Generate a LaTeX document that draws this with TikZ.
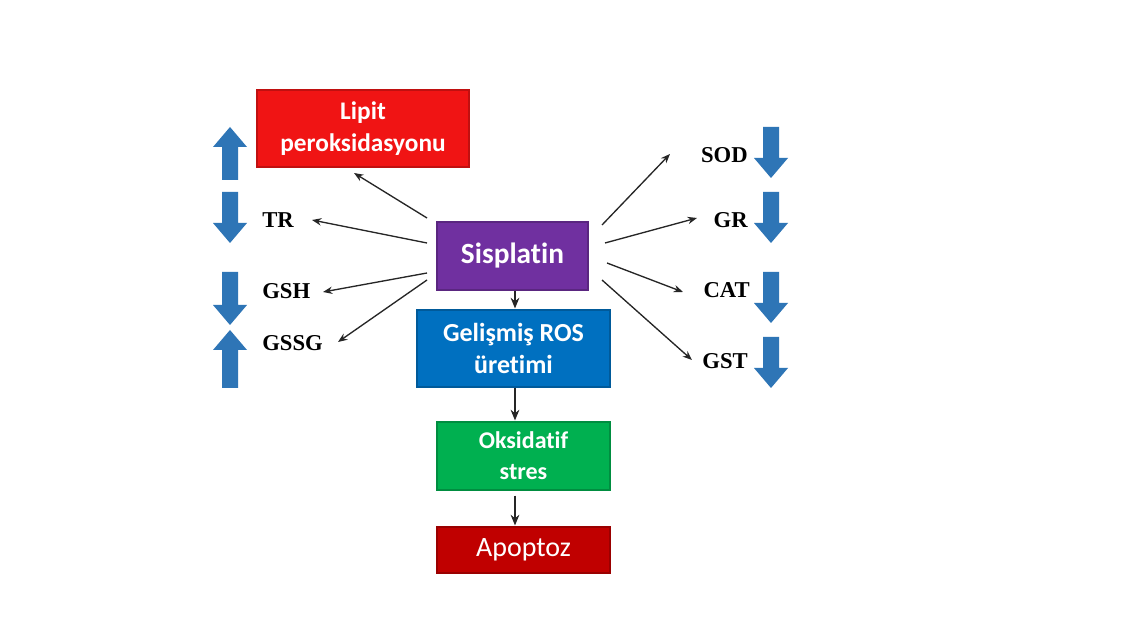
\documentclass[tikz,border=0pt]{standalone}
\usepackage{fontspec}
\setmainfont[Ligatures=NoCommon]{Carlito}
\newfontfamily\tnr{Liberation Serif}
\usetikzlibrary{arrows.meta,calc}
\definecolor{lipred}{RGB}{240,20,20}
\definecolor{sispurple}{RGB}{112,48,160}
\definecolor{rosblue}{RGB}{0,112,192}
\definecolor{oksgreen}{RGB}{0,176,80}
\definecolor{apored}{RGB}{192,0,0}
\definecolor{barrow}{RGB}{46,117,182}
\tikzset{
  boxnode/.style={rectangle, inner sep=0pt, text=white, align=center, font=\bfseries, line width=0.8pt},
  lbl/.style={inner sep=0pt, font=\tnr\bfseries\fontsize{17}{20}\selectfont},
  thinarrow/.style={-{Stealth[length=7pt,width=5.5pt]}, line width=1pt, black!85},
  vertarrow/.style={-{Stealth[length=8pt,width=6.5pt]}, line width=1.4pt, black!85},
  blockfill/.style={fill=barrow}
}
\begin{document}
\begin{tikzpicture}[x=0.75pt,y=-0.75pt]
\useasboundingbox (0,0) rectangle (1147,623);
\fill[white] (0,0) rectangle (1147,623);

% boxes
\node[boxnode, fill=lipred, draw=lipred!80!black, minimum width=212*0.75pt, minimum height=77*0.75pt, font=\bfseries\fontsize{19}{24}\selectfont]
  (lipit) at (363,128.5) {Lipit\\peroksidasyonu};
\node[boxnode, fill=sispurple, draw=sispurple!80!black, minimum width=151*0.75pt, minimum height=68*0.75pt, font=\bfseries\fontsize{22}{26}\selectfont]
  (sis) at (512.5,256) {Sisplatin};
\node[boxnode, fill=rosblue, draw=rosblue!80!black, minimum width=193*0.75pt, minimum height=77*0.75pt, font=\bfseries\fontsize{19.5}{24}\selectfont]
  (ros) at (513.5,348.5) {Gelişmiş ROS\\üretimi};
\node[boxnode, fill=oksgreen, draw=oksgreen!80!black, minimum width=173*0.75pt, minimum height=68*0.75pt, font=\bfseries\fontsize{18}{23}\selectfont]
  (oks) at (523.5,456) {Oksidatif\\stres};
\node[boxnode, fill=apored, draw=apored!80!black, minimum width=173*0.75pt, minimum height=46*0.75pt, font=\fontsize{21}{24}\selectfont]
  (apo) at (523.5,550) {Apoptoz};

% labels
\node[lbl, anchor=west] (tr) at (262,220) {TR};
\node[lbl, anchor=west] (gsh) at (262,291) {GSH};
\node[lbl, anchor=west] (gssg) at (262,343) {GSSG};
\node[lbl, anchor=east] (sod) at (748,155) {SOD};
\node[lbl, anchor=east] (gr) at (748,220) {GR};
\node[lbl, anchor=east] (cat) at (750,290) {CAT};
\node[lbl, anchor=east] (gst) at (748,361) {GST};

% connector end points
\coordinate (sLip) at (427,218); \coordinate (eLip) at (354,173);
\coordinate (sTR) at (427,243);  \coordinate (eTR) at (312,220);
\coordinate (sGSH) at (427,273); \coordinate (eGSH) at (323,292);
\coordinate (sGSSG) at (427,280); \coordinate (eGSSG) at (338,342);
\coordinate (sSOD) at (602,225); \coordinate (eSOD) at (670,154);
\coordinate (sGR) at (605,243);  \coordinate (eGR) at (697,218);
\coordinate (sCAT) at (607,263); \coordinate (eCAT) at (683,292);
\coordinate (sGST) at (602,280); \coordinate (eGST) at (692,360);

\draw[thinarrow] (sLip) -- (eLip);
\draw[thinarrow] (sTR) -- (eTR);
\draw[thinarrow] (sGSH) -- (eGSH);
\draw[thinarrow] (sGSSG) -- (eGSSG);
\draw[thinarrow] (sSOD) -- (eSOD);
\draw[thinarrow] (sGR) -- (eGR);
\draw[thinarrow] (sCAT) -- (eCAT);
\draw[thinarrow] (sGST) -- (eGST);

% vertical flow
\draw[vertarrow] (sis.south -| 515,0) -- ($(ros.north -| 515,0)+(0,-1)$);
\draw[vertarrow] (ros.south -| 515,0) -- ($(oks.north -| 515,0)+(0,-1)$);
\draw[vertarrow] ($(oks.south -| 515,0)+(0,5)$) -- ($(apo.north -| 515,0)+(0,-1)$);

% block arrows (left column x=230, right column x=771)
% up arrows
\fill[blockfill] (230,127) -- (247,147) -- (238,147) -- (238,180) -- (222,180) -- (222,147) -- (213,147) -- cycle;
\fill[blockfill] (230,330) -- (247,350) -- (238,350) -- (238,388) -- (222,388) -- (222,350) -- (213,350) -- cycle;
% down arrows left
\fill[blockfill] (230,243) -- (247,223) -- (238,223) -- (238,192) -- (222,192) -- (222,223) -- (213,223) -- cycle;
\fill[blockfill] (230,325) -- (247,305) -- (238,305) -- (238,272) -- (222,272) -- (222,305) -- (213,305) -- cycle;
% down arrows right
\fill[blockfill] (771,178) -- (788,158) -- (779,158) -- (779,127) -- (763,127) -- (763,158) -- (754,158) -- cycle;
\fill[blockfill] (771,243) -- (788,223) -- (779,223) -- (779,192) -- (763,192) -- (763,223) -- (754,223) -- cycle;
\fill[blockfill] (771,323) -- (788,303) -- (779,303) -- (779,272) -- (763,272) -- (763,303) -- (754,303) -- cycle;
\fill[blockfill] (771,388) -- (788,368) -- (779,368) -- (779,337) -- (763,337) -- (763,368) -- (754,368) -- cycle;
\end{tikzpicture}
\end{document}
